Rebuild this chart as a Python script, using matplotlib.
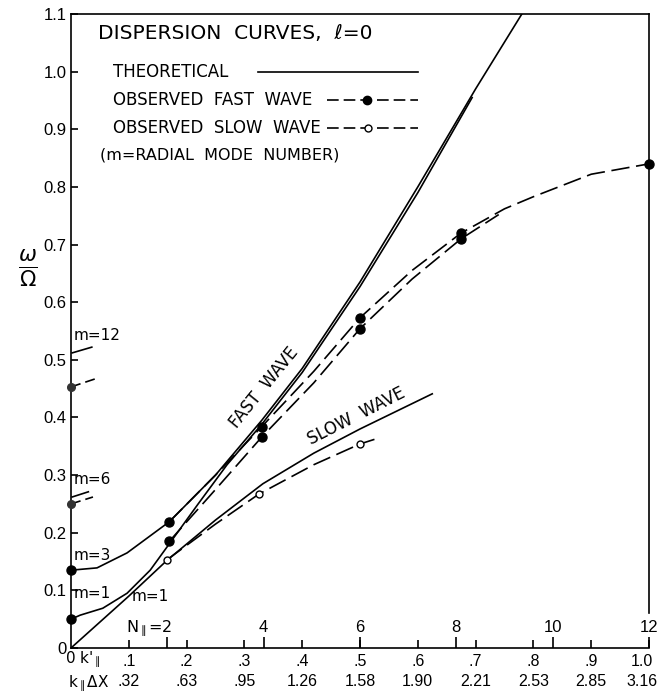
import matplotlib.pyplot as plt
import matplotlib.transforms as mtransforms

plt.rcParams["font.family"] = "DejaVu Sans"
plt.rcParams["mathtext.fontset"] = "dejavusans"

# %% data (k_par in units of k'_par, omega/Omega)
# theoretical curves, fast wave
k_th_fast3 = [0.0, 0.045, 0.097, 0.17, 0.25, 0.33, 0.4, 0.5, 0.6, 0.7, 0.78]
w_th_fast3 = [0.135, 0.139, 0.165, 0.219, 0.30, 0.395, 0.485, 0.635, 0.80, 0.97, 1.10]
k_th_fast1 = [0.0, 0.016, 0.055, 0.097, 0.137, 0.171, 0.22, 0.27, 0.33, 0.4, 0.5, 0.6, 0.694]
w_th_fast1 = [0.05, 0.057, 0.069, 0.095, 0.135, 0.182, 0.25, 0.318, 0.388, 0.478, 0.627, 0.79, 0.955]
# theoretical slow wave (m=1)
k_th_slow = [0.0, 0.1, 0.166, 0.25, 0.332, 0.42, 0.5, 0.625]
w_th_slow = [0.0, 0.09, 0.152, 0.222, 0.285, 0.338, 0.38, 0.441]
# short theoretical pieces near k=0 for m=6 and m=12
k_th_m6 = [0.002, 0.03]
w_th_m6 = [0.262, 0.271]
k_th_m12 = [0.002, 0.036]
w_th_m12 = [0.512, 0.522]

# observed fast wave
k_obs_fast3 = [0.17, 0.25, 0.33, 0.42, 0.5, 0.59, 0.675, 0.75, 0.8, 0.9, 1.0]
w_obs_fast3 = [0.219, 0.30, 0.384, 0.48, 0.573, 0.655, 0.72, 0.762, 0.783, 0.822, 0.84]
k_obs_fast1 = [0.17, 0.25, 0.33, 0.42, 0.5, 0.59, 0.675, 0.74]
w_obs_fast1 = [0.185, 0.275, 0.366, 0.46, 0.554, 0.64, 0.71, 0.752]
k_dots_fast = [0.0, 0.0, 0.17, 0.17, 0.33, 0.33, 0.5, 0.5, 0.675, 0.675, 1.0]
w_dots_fast = [0.05, 0.135, 0.219, 0.185, 0.384, 0.366, 0.573, 0.554, 0.72, 0.71, 0.84]
# observed at k=0 for m=6 and m=12
k_obs_m6 = [0.0, 0.038]
w_obs_m6 = [0.25, 0.262]
k_obs_m12 = [0.0, 0.042]
w_obs_m12 = [0.453, 0.467]
k_dots_high = [0.0, 0.0]
w_dots_high = [0.25, 0.453]

# observed slow wave
k_obs_slow = [0.166, 0.25, 0.325, 0.42, 0.5, 0.525]
w_obs_slow = [0.153, 0.215, 0.267, 0.318, 0.354, 0.362]
k_circ_slow = [0.166, 0.325, 0.5]
w_circ_slow = [0.153, 0.267, 0.354]

# axis labels
k_ticks = [0.1, 0.2, 0.3, 0.4, 0.5, 0.6, 0.7, 0.8, 0.9, 1.0]
k_labels = [".1", ".2", ".3", ".4", ".5", ".6", ".7", ".8", ".9", "1.0"]
kdx_labels = [".32", ".63", ".95", "1.26", "1.58", "1.90", "2.21", "2.53", "2.85", "3.16"]
n_par = [2, 4, 6, 8, 10, 12]
y_ticks = [0.0, 0.1, 0.2, 0.3, 0.4, 0.5, 0.6, 0.7, 0.8, 0.9, 1.0, 1.1]
y_labels = ["0", "0.1", "0.2", "0.3", "0.4", "0.5", "0.6", "0.7", "0.8", "0.9", "1.0", "1.1"]

# %%
lw = 1.2
dash = (11, 4)
tick_font = "Liberation Sans"

fig = plt.figure(figsize=(6.62, 6.94), dpi=100)
ax = fig.add_axes([71 / 662, 46 / 694, 578 / 662, 634 / 694])
ax.set_xlim(0, 1.0)
ax.set_ylim(0, 1.1)

# theory
for kk, ww in [(k_th_fast3, w_th_fast3), (k_th_fast1, w_th_fast1), (k_th_slow, w_th_slow),
               (k_th_m6, w_th_m6), (k_th_m12, w_th_m12)]:
    ax.plot(kk, ww, color="black", lw=lw)

# observed
for kk, ww in [(k_obs_fast3, w_obs_fast3), (k_obs_fast1, w_obs_fast1), (k_obs_slow, w_obs_slow)]:
    ax.plot(kk, ww, color="black", lw=lw, linestyle=(0, dash))
for kk, ww in [(k_obs_m6, w_obs_m6), (k_obs_m12, w_obs_m12)]:
    ax.plot(kk, ww, color="black", lw=lw, linestyle=(0, (6, 3)))

ax.plot(k_dots_fast, w_dots_fast, "o", color="black", ms=6.5, clip_on=False, zorder=5)
ax.plot(k_dots_high, w_dots_high, "o", color="#333333", ms=5.5, clip_on=False, zorder=5)
ax.plot(k_circ_slow, w_circ_slow, "o", mfc="white", mec="black", mew=1.0, ms=5, zorder=5)

# curve labels
ax.text(0.334, 0.451, "FAST  WAVE", rotation=51, ha="center", va="center",
        fontsize=12, rotation_mode="anchor")
ax.text(0.493, 0.402, "SLOW  WAVE", rotation=27, ha="center", va="center",
        fontsize=12, rotation_mode="anchor")
ax.text(0.005, 0.161, "m=3", fontsize=11, va="center")
ax.text(0.005, 0.094, "m=1", fontsize=11, va="center")
ax.text(0.105, 0.089, "m=1", fontsize=11, va="center")
ax.text(0.005, 0.293, "m=6", fontsize=11, va="center")
ax.text(0.005, 0.542, "m=12", fontsize=11, va="center")

# legend block
tr = ax.transAxes
ax.text(0.047, 0.970, "DISPERSION  CURVES,  ℓ=0", transform=tr, fontsize=14.5, va="center")
ax.text(0.073, 0.9085, "THEORETICAL", transform=tr, fontsize=12, va="center")
ax.plot([0.3235, 0.600], [0.9085, 0.9085], transform=tr, color="black", lw=lw)
ax.text(0.073, 0.864, "OBSERVED  FAST  WAVE", transform=tr, fontsize=12, va="center")
ax.plot([0.443, 0.600], [0.864, 0.864], transform=tr, color="black", lw=lw, linestyle=(0, (7, 3)))
ax.plot([0.512], [0.864], "o", transform=tr, color="black", ms=6)
ax.text(0.073, 0.820, "OBSERVED  SLOW  WAVE", transform=tr, fontsize=12, va="center")
ax.plot([0.443, 0.600], [0.820, 0.820], transform=tr, color="black", lw=lw, linestyle=(0, (7, 3)))
ax.plot([0.514], [0.820], "o", transform=tr, mfc="white", mec="black", mew=1.0, ms=5)
ax.text(0.050, 0.778, "(m=RADIAL  MODE  NUMBER)", transform=tr, fontsize=11.5, va="center")

# axes styling
for s in ax.spines.values():
    s.set_linewidth(1.2)
ax.spines["right"].set_bounds(0.06, 1.1)

ax.set_yticks(y_ticks)
ax.set_yticklabels(y_labels, family=tick_font)
ax.tick_params(axis="y", direction="in", length=5, width=1.2, labelsize=12, pad=3)

ax.set_xticks(k_ticks)
ax.set_xticklabels([a + "\n" + b for a, b in zip(k_labels, kdx_labels)],
                   linespacing=1.45, family=tick_font)
ax.set_xticks([n / 12 for n in n_par], minor=True)
ax.xaxis.remove_overlapping_locs = False
ax.tick_params(axis="x", which="major", direction="in", length=5.5, width=1.2, labelsize=11.5, pad=4)
ax.tick_params(axis="x", which="minor", direction="in", length=8, width=1.2)
ax.tick_params(top=False, right=False, which="both")

# nudge the last x label inside the canvas, as in the original
last = ax.get_xticklabels()[-1]
last.set_transform(last.get_transform() + mtransforms.ScaledTranslation(-5 / 72, 0, fig.dpi_scale_trans))

for n in n_par:
    if n == 2:
        ax.text(n / 12 + 0.008, 0.035, r"N$_{\parallel}$=2", ha="right", va="center", fontsize=11.5)
    else:
        ax.text(n / 12, 0.035, str(n), ha="center", va="center", fontsize=12, family=tick_font)

ax.text(-0.01, -0.019, r"0 k$'_{\parallel}$", transform=ax.get_xaxis_transform(),
        ha="left", va="center", fontsize=11)
ax.text(-0.005, -0.056, r"k$_{\parallel}$$\Delta$X", transform=ax.get_xaxis_transform(),
        ha="left", va="center", fontsize=11)

fig.text(28 / 662, 1 - 268 / 694, r"$\frac{\omega}{\Omega}$", fontsize=22, ha="center", va="center")

fig.savefig("out.png", dpi=100)
